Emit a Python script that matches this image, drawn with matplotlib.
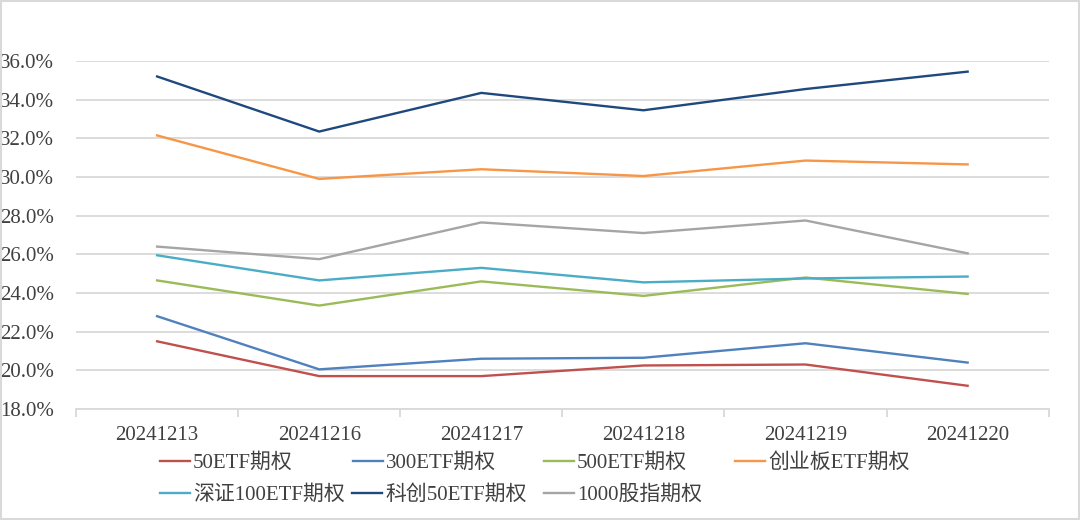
import matplotlib
matplotlib.use("Agg")
import matplotlib.pyplot as plt
from matplotlib.ticker import FuncFormatter, FixedLocator
from matplotlib.patches import Rectangle

plt.rcParams['font.family'] = ['Liberation Serif', 'Noto Sans CJK SC']

dates = ["20241213", "20241216", "20241217", "20241218", "20241219", "20241220"]
s_50etf = [21.5, 19.7, 19.7, 20.25, 20.3, 19.2]
s_300etf = [22.8, 20.05, 20.6, 20.65, 21.4, 20.4]
s_500etf = [24.65, 23.35, 24.6, 23.85, 24.8, 23.95]
s_cyb = [32.15, 29.9, 30.4, 30.05, 30.85, 30.65]
s_sz100 = [25.95, 24.65, 25.3, 24.55, 24.75, 24.85]
s_kc50 = [35.2, 32.35, 34.35, 33.45, 34.55, 35.45]
s_1000 = [26.4, 25.75, 27.65, 27.1, 27.75, 26.05]

series = [
    ("50ETF期权", s_50etf, "#C0504D"),
    ("300ETF期权", s_300etf, "#4F81BD"),
    ("500ETF期权", s_500etf, "#9BBB59"),
    ("创业板ETF期权", s_cyb, "#F79646"),
    ("深证100ETF期权", s_sz100, "#4BACC6"),
    ("科创50ETF期权", s_kc50, "#1F497D"),
    ("1000股指期权", s_1000, "#A5A5A5"),
]

W, H = 1080, 520
fig = plt.figure(figsize=(W / 100, H / 100), dpi=100)
fig.patches.append(Rectangle((0.001, 0.001), 0.998, 0.997, transform=fig.transFigure,
                             fill=False, edgecolor="#D9D9D9", linewidth=1.5))
ax = fig.add_axes([0.0704, 0.2135, 0.9006, 0.6692])

x = list(range(len(dates)))
handles = []
for name, vals, col in series:
    h, = ax.plot(x, vals, color=col, linewidth=1.7, label=name, solid_joinstyle="miter")
    handles.append(h)

ax.set_xlim(-0.5, len(dates) - 0.5)
ax.set_ylim(18, 36)
ax.set_yticks([18, 20, 22, 24, 26, 28, 30, 32, 34, 36])
ax.yaxis.set_major_formatter(FuncFormatter(lambda v, p: f"{v:.1f}%"))
ax.grid(axis="y", color="#D9D9D9", linewidth=1.3)
ax.set_axisbelow(True)
for s in ["top", "right", "left"]:
    ax.spines[s].set_visible(False)
ax.spines["bottom"].set_color("#D9D9D9")
ax.spines["bottom"].set_linewidth(1.3)

ax.set_xticks(x)
ax.set_xticklabels(dates)
ax.xaxis.set_minor_locator(FixedLocator([i - 0.5 for i in range(len(dates) + 1)]))
ax.tick_params(axis="x", which="major", length=0, pad=12, labelsize=15, labelcolor="#404040")
ax.tick_params(axis="x", which="minor", length=6, width=1.3, color="#D9D9D9")
ax.tick_params(axis="y", length=0, pad=16, labelsize=15, labelcolor="#404040")

# legend entries placed like the original (Excel-style flowing legend)
legend_pos = [(160, 463), (353, 463), (544, 463), (735, 463),
              (160, 495), (352, 495), (544, 495)]
for (px, py), h, (name, _, _) in zip(legend_pos, handles, series):
    leg = fig.legend([h], [name], loc="center left",
                     bbox_to_anchor=(px / W, 1 - py / H), frameon=False,
                     fontsize=15, handlelength=1.44, handletextpad=0.15,
                     borderpad=0, borderaxespad=0)
    for t in leg.get_texts():
        t.set_color("#404040")

fig.savefig("out.png", dpi=100)
